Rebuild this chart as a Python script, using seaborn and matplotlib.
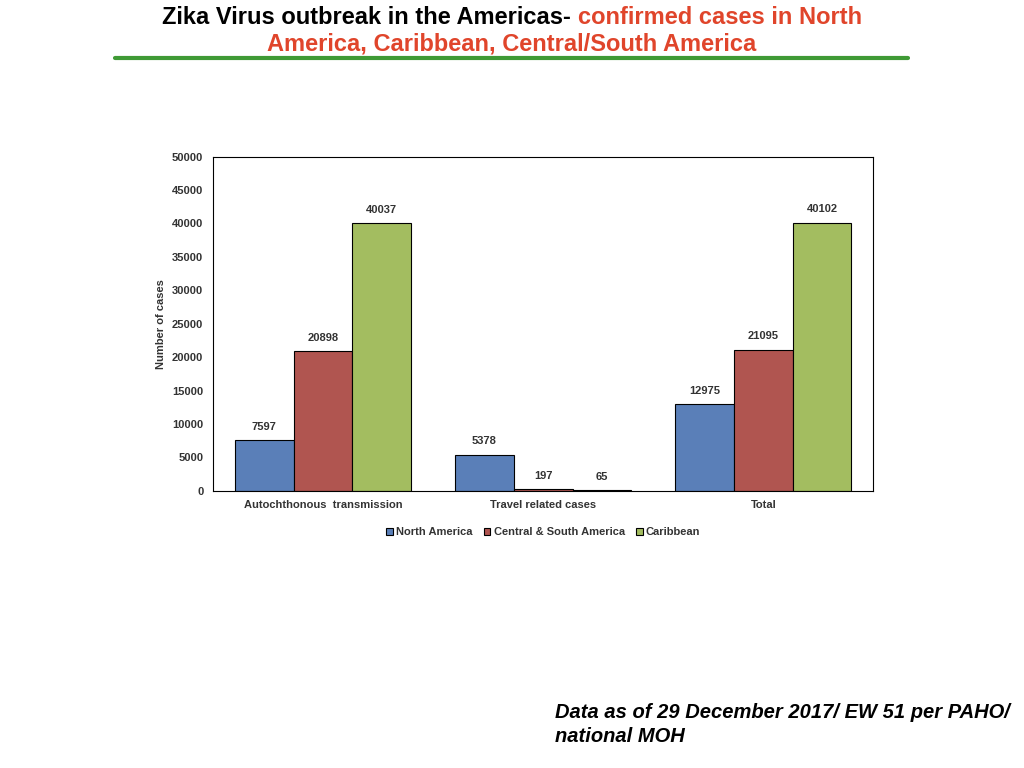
import matplotlib
matplotlib.use("Agg")
import matplotlib.pyplot as plt
import pandas as pd
import seaborn as sns

categories = ["Autochthonous  transmission", "Travel related cases", "Total"]
regions = ["North America", "Central & South America", "Caribbean"]
north_america = [7597, 5378, 12975]
central_south = [20898, 197, 21095]
caribbean = [40037, 65, 40102]
colors = ["#5a7fb8", "#b05550", "#a3bd60"]

rows = []
for reg, vals in zip(regions, [north_america, central_south, caribbean]):
    for cat, v in zip(categories, vals):
        rows.append({"cat": cat, "region": reg, "cases": v})
df = pd.DataFrame(rows)

sns.set_style("white")
plt.rcParams["font.family"] = ["Liberation Sans", "DejaVu Sans"]
fig = plt.figure(figsize=(10.24, 7.68), dpi=100)
ax = fig.add_axes([0.208, 0.361, 0.645, 0.435])
sns.barplot(data=df, x="cat", y="cases", hue="region", palette=colors, saturation=1,
            edgecolor="black", linewidth=0.8, width=0.8, ax=ax, legend=True)
for cont in ax.containers:
    ax.bar_label(cont, padding=6, fontsize=8, fontweight="bold", color="#333333")
ax.set_ylim(0, 50000)
ax.set_yticks(range(0, 50001, 5000))
ax.tick_params(labelsize=8, colors="#333333")
for lab in ax.get_xticklabels() + ax.get_yticklabels():
    lab.set_fontweight("bold")
ax.set_xlabel("")
ax.set_ylabel("Number of cases", fontsize=8, fontweight="bold", color="#333333")
for s in ax.spines.values():
    s.set_color("black"); s.set_linewidth(0.8)
leg = ax.legend(loc="upper center", bbox_to_anchor=(0.5, -0.08), ncol=3, frameon=False,
                fontsize=8, handlelength=0.6, handleheight=0.6, handletextpad=0.3,
                columnspacing=1.0)
for t in leg.get_texts():
    t.set_fontweight("bold"); t.set_color("#333333")

# title with two colours
fig.canvas.draw()
r = fig.canvas.get_renderer()
t1 = fig.text(0, 0, "Zika Virus outbreak in the Americas- ", fontsize=17, fontweight="bold", color="black")
t2 = fig.text(0, 0, "confirmed cases in North", fontsize=17, fontweight="bold", color="#e0452b")
w1 = t1.get_window_extent(r).width
w2 = t2.get_window_extent(r).width
x0 = (1024 - w1 - w2) / 2 / 1024
y1 = 1 - 17 / 768
t1.set_position((x0, y1)); t1.set_va("center")
t2.set_position((x0 + w1 / 1024, y1)); t2.set_va("center")
fig.text(0.5, 1 - 44 / 768, "America, Caribbean, Central/South America", fontsize=17,
         fontweight="bold", color="#e0452b", ha="center", va="center")
fig.add_artist(plt.Line2D([115 / 1024, 908 / 1024], [1 - 58 / 768] * 2,
                          color="#3f9a35", linewidth=3))
fig.text(555 / 1024, 1 - 712 / 768, "Data as of 29 December 2017/ EW 51 per PAHO/",
         fontsize=14.5, fontweight="bold", style="italic", va="center", color="black")
fig.text(555 / 1024, 1 - 737 / 768, "national MOH",
         fontsize=14.5, fontweight="bold", style="italic", va="center", color="black")
fig.savefig("out.png", dpi=100)
